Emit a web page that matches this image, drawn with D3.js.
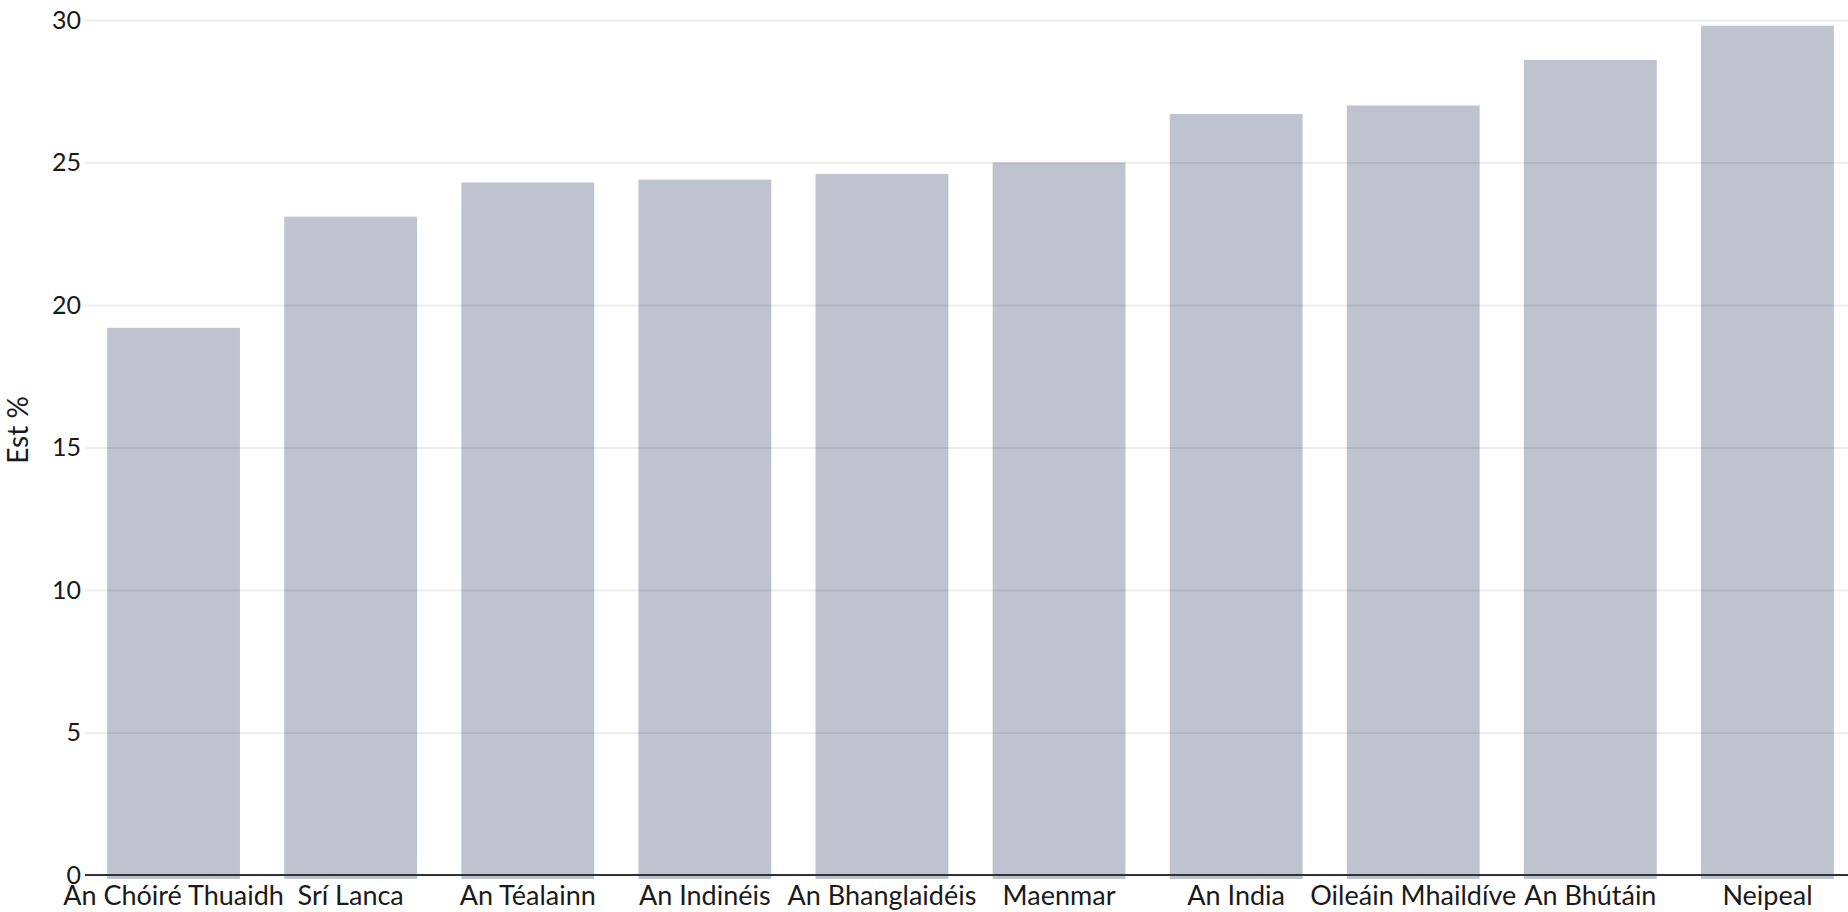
<!DOCTYPE html>
<html>
<head>
<meta charset="utf-8">
<script src="https://cdn.jsdelivr.net/npm/d3@7"></script>
<style>
  body { margin: 0; background: #fff; }
  svg { display: block; }
  svg text { font-family: Lato, "Open Sans", sans-serif; }
</style>
</head>
<body>
<div id="chart"></div>
<script>
// Countries, in display order
const countries = ["An Chóiré Thuaidh", "Srí Lanca", "An Téalainn", "An Indinéis", "An Bhanglaidéis",
    "Maenmar", "An India", "Oileáin Mhaildíve", "An Bhútáin", "Neipeal"];
// Est % per country
const values = [19.2, 23.1, 24.3, 24.4, 24.6, 25.0, 26.7, 27.0, 28.6, 29.8];
const yTicks = [0, 5, 10, 15, 20, 25, 30];

const width = 1848, height = 912;
const margin = { top: 20, right: -8, bottom: 37, left: 85 };

const svg = d3.select("#chart").append("svg")
    .attr("width", width)
    .attr("height", height);

const x = d3.scaleBand()
    .domain(countries)
    .range([margin.left, width - margin.right])
    .paddingInner(0.25)
    .paddingOuter(0.125);

const y = d3.scaleLinear()
    .domain([0, 30])
    .range([height - margin.bottom, margin.top]);

// bars (run a few px past the baseline like the original)
svg.append("g")
    .selectAll("rect")
    .data(values)
    .join("rect")
    .attr("x", (d, i) => x(countries[i]))
    .attr("y", d => y(d))
    .attr("width", x.bandwidth())
    .attr("height", d => y(0) - y(d) + 4)
    .attr("fill", "#bfc3d0");

// gridlines sit over the bars
const yAxis = svg.append("g")
    .attr("transform", `translate(${margin.left},0)`)
    .call(d3.axisLeft(y).tickValues(yTicks).tickSize(0).tickPadding(4));
yAxis.select(".domain").remove();
yAxis.selectAll(".tick line")
    .attr("x2", width - margin.left)
    .attr("stroke", "rgba(0,0,0,0.07)")
    .attr("stroke-width", 2);
yAxis.selectAll(".tick text")
    .attr("fill", "#1a1a1a")
    .style("font-size", "25px");

// baseline
svg.append("line")
    .attr("x1", margin.left)
    .attr("x2", width)
    .attr("y1", y(0))
    .attr("y2", y(0))
    .attr("stroke", "#333")
    .attr("stroke-width", 2);

// category labels
const xAxis = svg.append("g")
    .attr("transform", `translate(0,${y(0)})`)
    .call(d3.axisBottom(x).tickSize(0));
xAxis.select(".domain").remove();
xAxis.selectAll(".tick text")
    .attr("fill", "#1a1a1a")
    .attr("y", 30)
    .attr("dy", 0)
    .style("font-size", "27px");

// y title
svg.append("text")
    .attr("transform", `translate(28,430) rotate(-90)`)
    .attr("text-anchor", "middle")
    .attr("fill", "#1a1a1a")
    .style("font-size", "28px")
    .text("Est %");
</script>
</body>
</html>
